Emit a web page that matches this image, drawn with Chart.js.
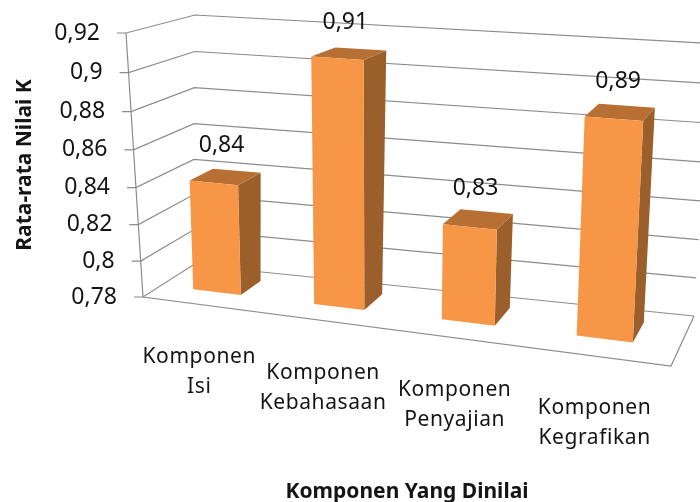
<!DOCTYPE html>
<html><head><meta charset="utf-8">
<style>html,body{margin:0;padding:0;background:#fff}canvas{display:block}</style>
<script src="https://cdn.jsdelivr.net/npm/chart.js@4"></script></head>
<body><canvas id="c" width="700" height="502"></canvas>
<script>
const categories = [["Komponen","Isi"],["Komponen","Kebahasaan"],["Komponen","Penyajian"],["Komponen","Kegrafikan"]];
const values = [0.84, 0.91, 0.83, 0.89];
const yMin = 0.78, yMax = 0.92, yStep = 0.02;
const xTitle = "Komponen Yang Dinilai";
const yTitle = "Rata-rata Nilai K";
const frontColor = "#F79646", sideColor = "#9A5F2B", topColor = "#B86F33";
const gridColor = "#8C8C8C", textColor = "#141414";

// perspective frame of the box: bottom-left, bottom-right, top-right, top-left
const frontPlane = [[143,297],[671,366],[687,70],[126,33]];
const backPlane  = [[193,265],[694,316],[710,43.5],[195,15]];
const barDepth = [0.36, 0.77];
const barNudge = -0.006;

function homography(q){
  const [[x0,y0],[x1,y1],[x2,y2],[x3,y3]] = q;
  const dx1=x1-x2,dx2=x3-x2,sx=x0-x1+x2-x3,dy1=y1-y2,dy2=y3-y2,sy=y0-y1+y2-y3;
  const den=dx1*dy2-dx2*dy1;
  const g=(sx*dy2-dx2*sy)/den,h=(dx1*sy-sx*dy1)/den;
  const a=x1-x0+g*x1,b=x3-x0+h*x3,d=y1-y0+g*y1,e=y3-y0+h*y3;
  return (u,v)=>{const k=g*u+h*v+1;return [(a*u+b*v+x0)/k,(d*u+e*v+y0)/k];};
}
const F=homography(frontPlane),B=homography(backPlane);
function P(u,v,w){const a=F(u,v),b=B(u,v);return [a[0]+(b[0]-a[0])*w,a[1]+(b[1]-a[1])*w];}
function uOf(chart,px){const c=chart.chartArea;return (px-c.left)/(c.right-c.left);}
function vOf(chart,py){const c=chart.chartArea;return (c.bottom-py)/(c.bottom-c.top);}
function poly(ctx,pts,fill){ctx.beginPath();pts.forEach((p,i)=>i?ctx.lineTo(p[0],p[1]):ctx.moveTo(p[0],p[1]));ctx.closePath();ctx.fillStyle=fill;ctx.fill();}
function seg(ctx,pts){ctx.beginPath();pts.forEach((p,i)=>i?ctx.lineTo(p[0],p[1]):ctx.moveTo(p[0],p[1]));ctx.stroke();}
const fmt=v=>String(+(+v).toFixed(2)).replace('.',',');

const box3d={
  id:'box3d',
  afterLayout(chart){
    const ys=chart.scales.y,xs=chart.scales.x;
    ys.drawLabels=function(){
      const ctx=this.ctx;ctx.save();
      ctx.font=Chart.helpers.toFont(this.options.ticks.font).string;
      ctx.fillStyle=textColor;ctx.textAlign='right';ctx.textBaseline='middle';
      this.ticks.forEach((t,i)=>{const p=P(0,vOf(chart,this.getPixelForTick(i)),0);ctx.fillText(t.label,p[0]-26,p[1]);});
      ctx.restore();
    };
    xs.drawLabels=function(){
      const ctx=this.ctx;ctx.save();
      ctx.font=Chart.helpers.toFont(this.options.ticks.font).string;
      ctx.letterSpacing='0.6px';
      ctx.fillStyle=textColor;ctx.textAlign='center';ctx.textBaseline='middle';
      this.ticks.forEach((t,i)=>{const p=P(uOf(chart,this.getPixelForTick(i)),0,0);
        [].concat(t.label).forEach((s,k)=>ctx.fillText(s,p[0]-3,p[1]+52+k*30));});
      ctx.restore();
    };
  },
  beforeDatasetsDraw(chart){
    const ctx=chart.ctx,ys=chart.scales.y;
    ctx.save();ctx.strokeStyle=gridColor;ctx.lineWidth=1.2;
    ys.ticks.forEach((t,i)=>{
      const v=vOf(chart,ys.getPixelForTick(i));
      const a=P(0,v,0);
      seg(ctx,[[a[0]-9,a[1]],a,P(0,v,1),P(1,v,1)]);
    });
    seg(ctx,[P(0,1,0),P(0,0,0),P(1,0,0),P(1,0,1)]);
    ctx.restore();
  },
  beforeDatasetDraw(chart,args){
    const ctx=chart.ctx,[w0,w1]=barDepth;
    const ds=chart.data.datasets[args.index];
    chart.getDatasetMeta(args.index).data.forEach(el=>{
      const l=uOf(chart,el.x-el.width/2)+barNudge,r=uOf(chart,el.x+el.width/2)+barNudge;
      const t=vOf(chart,el.y),b=vOf(chart,el.base);
      poly(ctx,[P(r,b,w0),P(r,b,w1),P(r,t,w1),P(r,t,w0)],sideColor);
      poly(ctx,[P(l,t,w0),P(r,t,w0),P(r,t,w1),P(l,t,w1)],topColor);
      poly(ctx,[P(l,b,w0),P(r,b,w0),P(r,t,w0),P(l,t,w0)],ds.backgroundColor);
    });
    return false;
  },
  afterDatasetsDraw(chart){
    const ctx=chart.ctx;ctx.save();
    ctx.font=Chart.helpers.toFont(chart.options.scales.y.ticks.font).string;
    ctx.fillStyle=textColor;ctx.textAlign='center';ctx.textBaseline='middle';
    chart.getDatasetMeta(0).data.forEach((el,i)=>{
      const p=P(uOf(chart,el.x)+barNudge,vOf(chart,el.y),0.5);
      ctx.fillText(fmt(values[i]),p[0],p[1]-33);
    });
    ctx.restore();
  }
};

new Chart(document.getElementById('c'),{
  type:'bar',
  data:{labels:categories,datasets:[{label:yTitle,data:values,base:yMin,backgroundColor:frontColor,categoryPercentage:0.4,barPercentage:1}]},
  plugins:[box3d],
  options:{
    responsive:false,animation:false,
    layout:{padding:{left:12,right:29,top:33,bottom:0}},
    plugins:{legend:{display:false},tooltip:{enabled:false}},
    scales:{
      x:{grid:{display:false},border:{display:false},
        ticks:{font:{family:'Noto Sans',size:21},color:textColor,autoSkip:false,maxRotation:0},
        title:{display:true,text:xTitle,color:textColor,font:{family:'Noto Sans',size:21,weight:'bold'},padding:{top:0,bottom:-3}},
        afterFit(s){s.height=205;}},
      y:{min:yMin,max:yMax,grid:{display:false},border:{display:false},
        ticks:{stepSize:yStep,font:{family:'Noto Sans',size:23},color:textColor,callback:fmt},
        title:{display:true,text:yTitle,color:textColor,font:{family:'Noto Sans',size:21,weight:'bold'},padding:{top:0,bottom:0}},
        afterFit(s){s.width=131;}}
    }
  }
});
</script></body></html>
